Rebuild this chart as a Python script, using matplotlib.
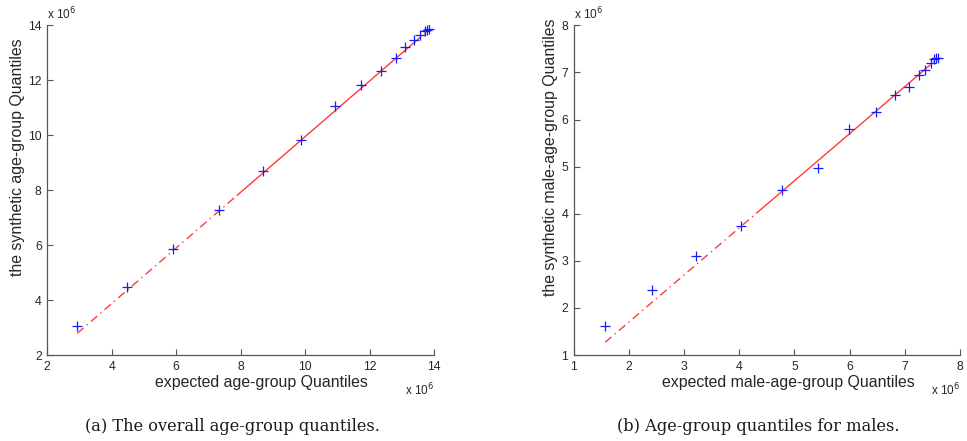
import matplotlib
matplotlib.use("Agg")
import matplotlib.pyplot as plt
import numpy as np

# ---- data (units of 1e6) ----
a_expected = [2.93, 4.48, 5.91, 7.34, 8.70, 9.86, 10.93, 11.72, 12.36, 12.81,
              13.11, 13.37, 13.57, 13.72, 13.79, 13.84]
a_synthetic = [3.07, 4.49, 5.85, 7.28, 8.70, 9.83, 11.06, 11.84, 12.35, 12.80,
               13.20, 13.47, 13.66, 13.79, 13.83, 13.85]
a_line_x = [2.93, 7.90, 13.40, 13.85]
a_line_y = [2.79, 7.82, 13.39, 13.85]

b_expected = [1.57, 2.41, 3.22, 4.04, 4.78, 5.42, 5.99, 6.47, 6.82, 7.08,
              7.25, 7.37, 7.47, 7.53, 7.57, 7.60]
b_synthetic = [1.61, 2.37, 3.10, 3.74, 4.50, 4.98, 5.79, 6.17, 6.52, 6.68,
               6.95, 7.05, 7.19, 7.28, 7.30, 7.31]
b_line_x = [1.57, 4.41, 7.35, 7.60]
b_line_y = [1.27, 4.11, 7.05, 7.30]

a_ticks = [2, 4, 6, 8, 10, 12, 14]
b_ticks = [1, 2, 3, 4, 5, 6, 7, 8]

panels = [
    dict(x=a_expected, y=a_synthetic, lx=a_line_x, ly=a_line_y, ticks=a_ticks,
         xlabel="expected age-group Quantiles",
         ylabel="the synthetic age-group Quantiles",
         caption="(a) The overall age-group quantiles.",
         rect=[0.0489, 0.195, 0.3999, 0.7476], ylab=(-0.076, 0.60),
         cap_x=232 / 967),
    dict(x=b_expected, y=b_synthetic, lx=b_line_x, ly=b_line_y, ticks=b_ticks,
         xlabel="expected male-age-group Quantiles",
         ylabel="the synthetic male-age-group Quantiles",
         caption="(b) Age-group quantiles for males.",
         rect=[0.5933, 0.195, 0.3995, 0.7476], ylab=(-0.061, 0.60),
         cap_x=758.5 / 967),
]

plt.rcParams['font.family'] = ['Liberation Sans', 'DejaVu Sans']

fig = plt.figure(figsize=(9.67, 4.41), dpi=100)
axis_col = '#555555'
text_col = '#262626'

for p in panels:
    ax = fig.add_axes(p['rect'])
    lx, ly = p['lx'], p['ly']
    # dash-dot extensions, solid between quartiles
    ax.plot(lx[0:2], ly[0:2], color='#ff3b3b', lw=1.0, ls=(0, (6, 3, 1, 3)))
    ax.plot(lx[1:3], ly[1:3], color='#ff3b3b', lw=1.0, ls='-')
    ax.plot(lx[2:4], ly[2:4], color='#ff3b3b', lw=1.0, ls=(0, (6, 3, 1, 3)))
    ax.plot(p['x'], p['y'], ls='none', marker='+', color='#1a1aff',
            markersize=7.5, markeredgewidth=0.9)
    t = p['ticks']
    ax.set_xlim(t[0], t[-1])
    ax.set_ylim(t[0], t[-1])
    ax.set_xticks(t)
    ax.set_yticks(t)
    for s in ['top', 'right']:
        ax.spines[s].set_visible(False)
    for s in ['left', 'bottom']:
        ax.spines[s].set_color(axis_col)
        ax.spines[s].set_linewidth(0.9)
    ax.tick_params(direction='in', length=4, width=0.8, colors=axis_col,
                   labelcolor=text_col, labelsize=8.8, pad=4)
    ax.set_xlabel(p['xlabel'], fontsize=11.4, color=text_col)
    ax.set_ylabel(p['ylabel'], fontsize=11.4, color=text_col)
    ax.xaxis.set_label_coords(0.555, -0.082)
    ax.yaxis.set_label_coords(*p['ylab'])
    ax.xaxis.label.set_va('center')
    ax.yaxis.label.set_va('center')
    ax.text(0.0, 1.008, r'x 10$^{6}$', transform=ax.transAxes, ha='left',
            va='bottom', fontsize=8.5, color=text_col)
    ax.text(1.0, -0.08, r'x 10$^{6}$', transform=ax.transAxes, ha='right',
            va='top', fontsize=8.5, color=text_col)
    fig.text(p['cap_x'], 1 - 426.7 / 441, p['caption'], ha='center',
             va='center', fontsize=11.7, family=['DejaVu Serif'],
             color='#1a1a1a')

fig.savefig("out.png", dpi=100)
